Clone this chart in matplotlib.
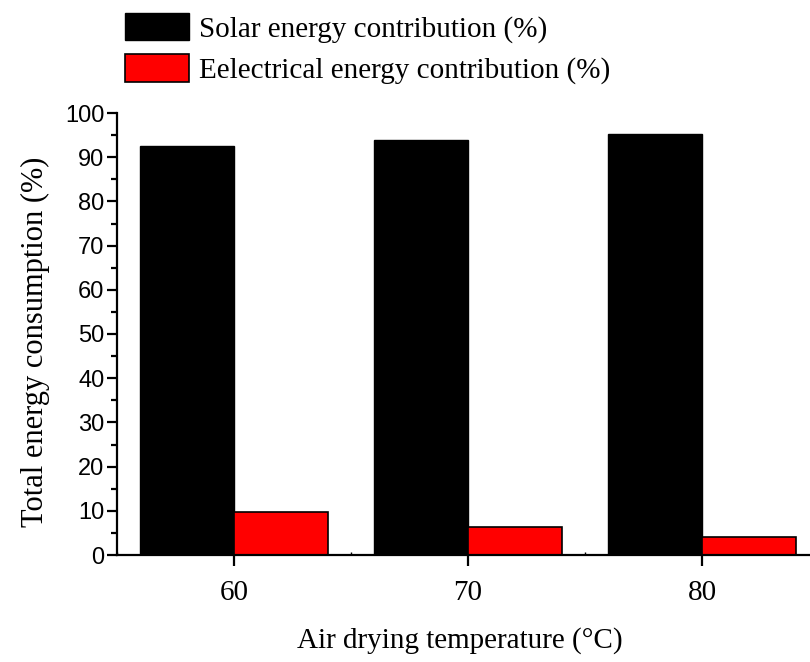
import matplotlib
matplotlib.use('Agg')
from matplotlib import pyplot as plt
from matplotlib.ticker import MultipleLocator
import numpy as np

# air drying temperatures (degC) and share of total energy (%)
temps = [60, 70, 80]
solar = [92.5, 93.9, 95.2]
electrical = [9.8, 6.3, 4.0]
labels = ['Solar energy contribution (%)', 'Eelectrical energy contribution (%)']

serif = 'Liberation Serif'
sans = 'Liberation Sans'

W, H = 810, 662
fig = plt.figure(figsize=(W / 100, H / 100), dpi=100)
# axes runs off the right edge of the figure
x0, x1 = 117, 830
y0, y1 = 555, 113
ax = fig.add_axes([x0 / W, 1 - y0 / H, (x1 - x0) / W, (y0 - y1) / H])

t = np.array(temps, dtype=float)
bw = 4.0
ax.bar(t - bw / 2, solar, width=bw, color='black', edgecolor='black', linewidth=1, label=labels[0])
ax.bar(t + bw / 2, electrical, width=bw, color='red', edgecolor='black', linewidth=1.2, label=labels[1])

ax.set_xlim(55, 55 + (x1 - x0) / 23.4)
ax.set_ylim(0, 100)
ax.set_xticks(temps)
ax.xaxis.set_minor_locator(MultipleLocator(5))
ax.yaxis.set_major_locator(MultipleLocator(10))
ax.yaxis.set_minor_locator(MultipleLocator(5))

for side in ['top', 'right']:
    ax.spines[side].set_visible(False)
for side in ['left', 'bottom']:
    ax.spines[side].set_linewidth(1.6)

ax.tick_params(axis='y', which='major', direction='out', length=7, width=1.6, labelsize=17, pad=2)
ax.tick_params(axis='y', which='minor', direction='out', length=4, width=1.6)
ax.tick_params(axis='x', which='major', direction='out', length=8, width=1.6, labelsize=21, pad=10)
ax.tick_params(axis='x', which='minor', direction='in', length=2, width=1)
for lab in ax.get_yticklabels():
    lab.set_fontfamily(sans)
for lab in ax.get_xticklabels():
    lab.set_fontfamily(serif)

fig.text(35 / W, 1 - 342 / H, 'Total energy consumption (%)', fontfamily=serif, fontsize=22,
         rotation=90, ha='center', va='center')
fig.text(460 / W, 1 - 641 / H, 'Air drying temperature (°C)', fontfamily=serif, fontsize=21,
         ha='center', va='center')

fig.legend(loc='upper left', bbox_to_anchor=(125 / W, 1 - 13 / H), frameon=False,
           prop={'family': serif, 'size': 21}, handlelength=2.2, handleheight=1.05,
           handletextpad=0.35, labelspacing=0.4, borderaxespad=0, borderpad=0)

fig.savefig('out.png', dpi=100)
